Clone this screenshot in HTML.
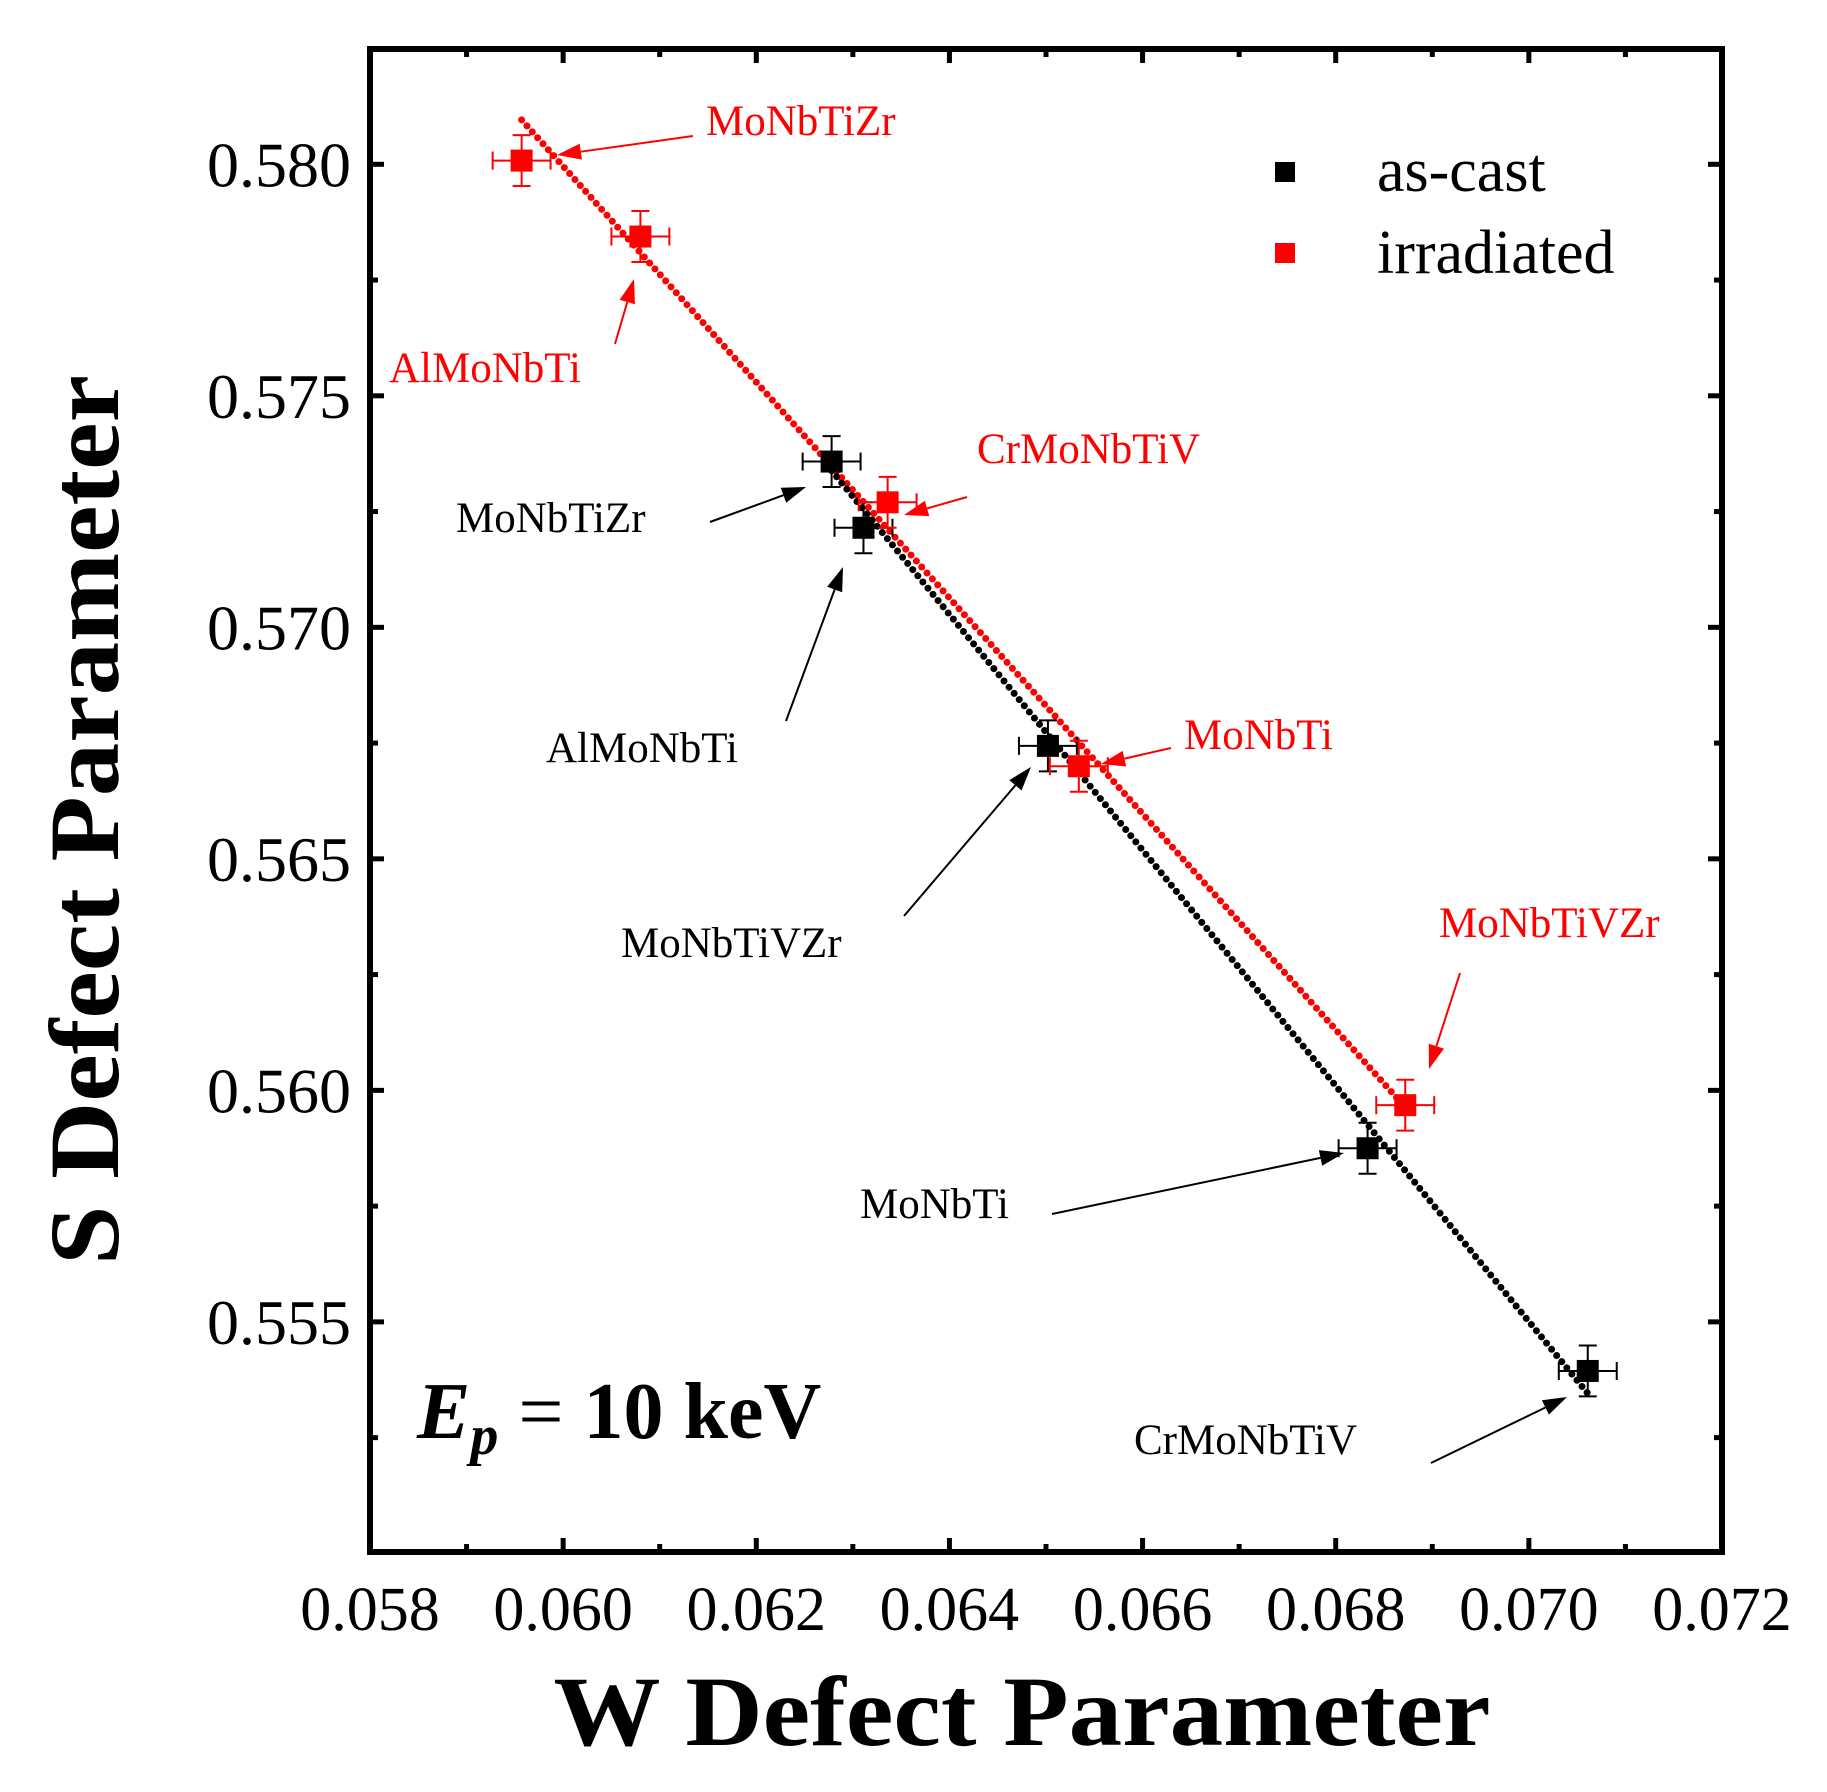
<!DOCTYPE html>
<html><head><meta charset="utf-8"><style>
html,body{margin:0;padding:0;background:#fff;}
svg{display:block;font-family:"Liberation Serif",serif;}
</style></head><body>
<svg id="chart" width="1827" height="1792" viewBox="0 0 1827 1792" xmlns="http://www.w3.org/2000/svg">
<g id="plot"></g>
</svg>
<script>
const names = ["MoNbTiZr","AlMoNbTi","CrMoNbTiV","MoNbTi","MoNbTiVZr"];
const castW = [0.06278,0.06311,0.07061,0.06833,0.06502];
const castS = [0.57358,0.57215,0.55394,0.55875,0.56744];
const irrW  = [0.05957,0.06080,0.06336,0.06534,0.06872];
const irrS  = [0.58008,0.57844,0.57270,0.56700,0.55968];
const errW = 0.00030;
const errS = 0.00055;
const xTicks = ["0.058","0.060","0.062","0.064","0.066","0.068","0.070","0.072"];
const yTicks = ["0.555","0.560","0.565","0.570","0.575","0.580"];

const X0=370,X1=1722,Y0=49,Y1=1552;
const xMin=0.058,xMax=0.072,yMin=0.55003,yMax=0.58249;
const sx=v=>X0+(v-xMin)/(xMax-xMin)*(X1-X0);
const sy=v=>Y1-(v-yMin)/(yMax-yMin)*(Y1-Y0);
const NS="http://www.w3.org/2000/svg";
const g=document.getElementById('plot');
function el(t,a,p){const e=document.createElementNS(NS,t);for(const k in a)e.setAttribute(k,a[k]);(p||g).appendChild(e);return e;}

// frame
const fr=el('rect',{x:X0,y:Y0,width:X1-X0,height:Y1-Y0,fill:'none',stroke:'#000','stroke-width':6});



// ticks
for(let i=0;i<=14;i++){
  const v=xMin+i*0.001, x=sx(v), len=(i%2===0)?14:8;
  const t1=el('line',{x1:x,x2:x,y1:Y1,y2:Y1-len,stroke:'#000','stroke-width':5});
  
  
  const t2=el('line',{x1:x,x2:x,y1:Y0,y2:Y0+len,stroke:'#000','stroke-width':5});
  
  
}
xTicks.forEach(s=>{
  const t=el('text',{x:sx(parseFloat(s)),y:1630,'font-size':62,'text-anchor':'middle'});
  t.textContent=s;
  
  
});
for(let i=0;i<=12;i++){
  const v=0.5525+i*0.0025; if(v>yMax) break;
  const y=sy(v), len=(i%2===1)?14:8;
  const t1=el('line',{x1:X0,x2:X0+len,y1:y,y2:y,stroke:'#000','stroke-width':5});
  
  
  const t2=el('line',{x1:X1,x2:X1-len,y1:y,y2:y,stroke:'#000','stroke-width':5});
  
  
}
yTicks.forEach(s=>{
  const t=el('text',{x:351,y:sy(parseFloat(s))+22,'font-size':64,'text-anchor':'end'});
  t.textContent=s;
  
  
});

// fit lines
function fit(W,S,color,nm){
  const n=W.length;let mx=0,my=0;W.forEach((w,i)=>{mx+=w;my+=S[i];});mx/=n;my/=n;
  let a=0,b=0;W.forEach((w,i)=>{a+=(w-mx)*(S[i]-my);b+=(w-mx)*(w-mx);});
  const k=a/b,c=my-k*mx;
  const lo=Math.min(...W),hi=Math.max(...W);
  const l=el('line',{x1:sx(lo),y1:sy(k*lo+c)-10,x2:sx(hi),y2:sy(k*hi+c)+4,stroke:color,'stroke-width':7,'stroke-linecap':'round','stroke-dasharray':'0 8'});
  
  
}
fit(irrW,irrS,'#ff0000','irradiated-fit-line');
fit(castW,castS,'#000','as-cast-fit-line');

// points with error bars
function pts(W,S,color,series){
  W.forEach((w,i)=>{
    const x=sx(w),y=sy(S[i]);
    const eb=el('g',{stroke:color,'stroke-width':2,fill:'none'});
    
    
    const xl=sx(w-errW),xr=sx(w+errW),yt=sy(S[i]+errS),yb=sy(S[i]-errS);
    el('line',{x1:xl,x2:xr,y1:y,y2:y},eb);
    el('line',{x1:x,x2:x,y1:yt,y2:yb},eb);
    el('line',{x1:xl,x2:xl,y1:y-9,y2:y+9},eb);
    el('line',{x1:xr,x2:xr,y1:y-9,y2:y+9},eb);
    el('line',{x1:x-9,x2:x+9,y1:yt,y2:yt},eb);
    el('line',{x1:x-9,x2:x+9,y1:yb,y2:yb},eb);
    const r=el('rect',{x:x-11,y:y-11,width:22,height:22,fill:color});
    
    
  });
}
pts(castW,castS,'#000','as-cast');
pts(irrW,irrS,'#ff0000','irradiated');

// annotations
const ann=[
 ['MoNbTiZr','#ff0000',706,135,693,136,557,155],
 ['AlMoNbTi','#ff0000',389,382,615,344,634,279],
 ['CrMoNbTiV','#ff0000',977,463,967,497,904,515],
 ['MoNbTi','#ff0000',1184,749,1171,748,1101,764],
 ['MoNbTiVZr','#ff0000',1439,937,1460,973,1429,1069],
 ['MoNbTiZr','#000',456,532,710,522,806,487],
 ['AlMoNbTi','#000',546,762,786,721,843,567],
 ['MoNbTiVZr','#000',621,957,904,916,1031,767],
 ['MoNbTi','#000',860,1218,1052,1214,1344,1153],
 ['CrMoNbTiV','#000',1134,1454,1431,1463,1567,1397]
];
ann.forEach(a=>{
  const [txt,c,tx,ty,x1,y1,x2,y2]=a;
  const t=el('text',{x:tx,y:ty,'font-size':43,fill:c});
  t.textContent=txt;
  
  
  const ang=Math.atan2(y2-y1,x2-x1),L=24,Wd=8;
  const bx=x2-L*Math.cos(ang),by=y2-L*Math.sin(ang);
  const l=el('line',{x1:x1,y1:y1,x2:bx,y2:by,stroke:c,'stroke-width':2});
  
  
  const p=el('polygon',{points:`${x2},${y2} ${bx+Wd*Math.sin(ang)},${by-Wd*Math.cos(ang)} ${bx-Wd*Math.sin(ang)},${by+Wd*Math.cos(ang)}`,fill:c});
  
  
});
</script>
<svg style="position:absolute;left:0;top:0" width="1827" height="1792" xmlns="http://www.w3.org/2000/svg" font-family="Liberation Serif, serif">
<g>
<rect x="1275" y="162" width="20" height="20" fill="#000"/>
<text x="1377" y="191" font-size="62">as-cast</text>
<rect x="1275" y="243" width="20" height="20" fill="#ff0000"/>
<text x="1377" y="273" font-size="62">irradiated</text>
</g>
<text x="417" y="1438" font-size="80" font-weight="bold"><tspan font-style="italic">E</tspan><tspan font-style="italic" font-size="56" dy="16">p</tspan><tspan dy="-16" font-weight="normal"> = </tspan><tspan>10 keV</tspan></text>
<text x="1022" y="1745" font-size="100" font-weight="bold" text-anchor="middle" textLength="937" lengthAdjust="spacingAndGlyphs">W Defect Parameter</text>
<text transform="translate(118,820) rotate(-90)" font-size="100" font-weight="bold" text-anchor="middle" textLength="890" lengthAdjust="spacingAndGlyphs">S Defect Parameter</text>
</svg>
</body></html>
